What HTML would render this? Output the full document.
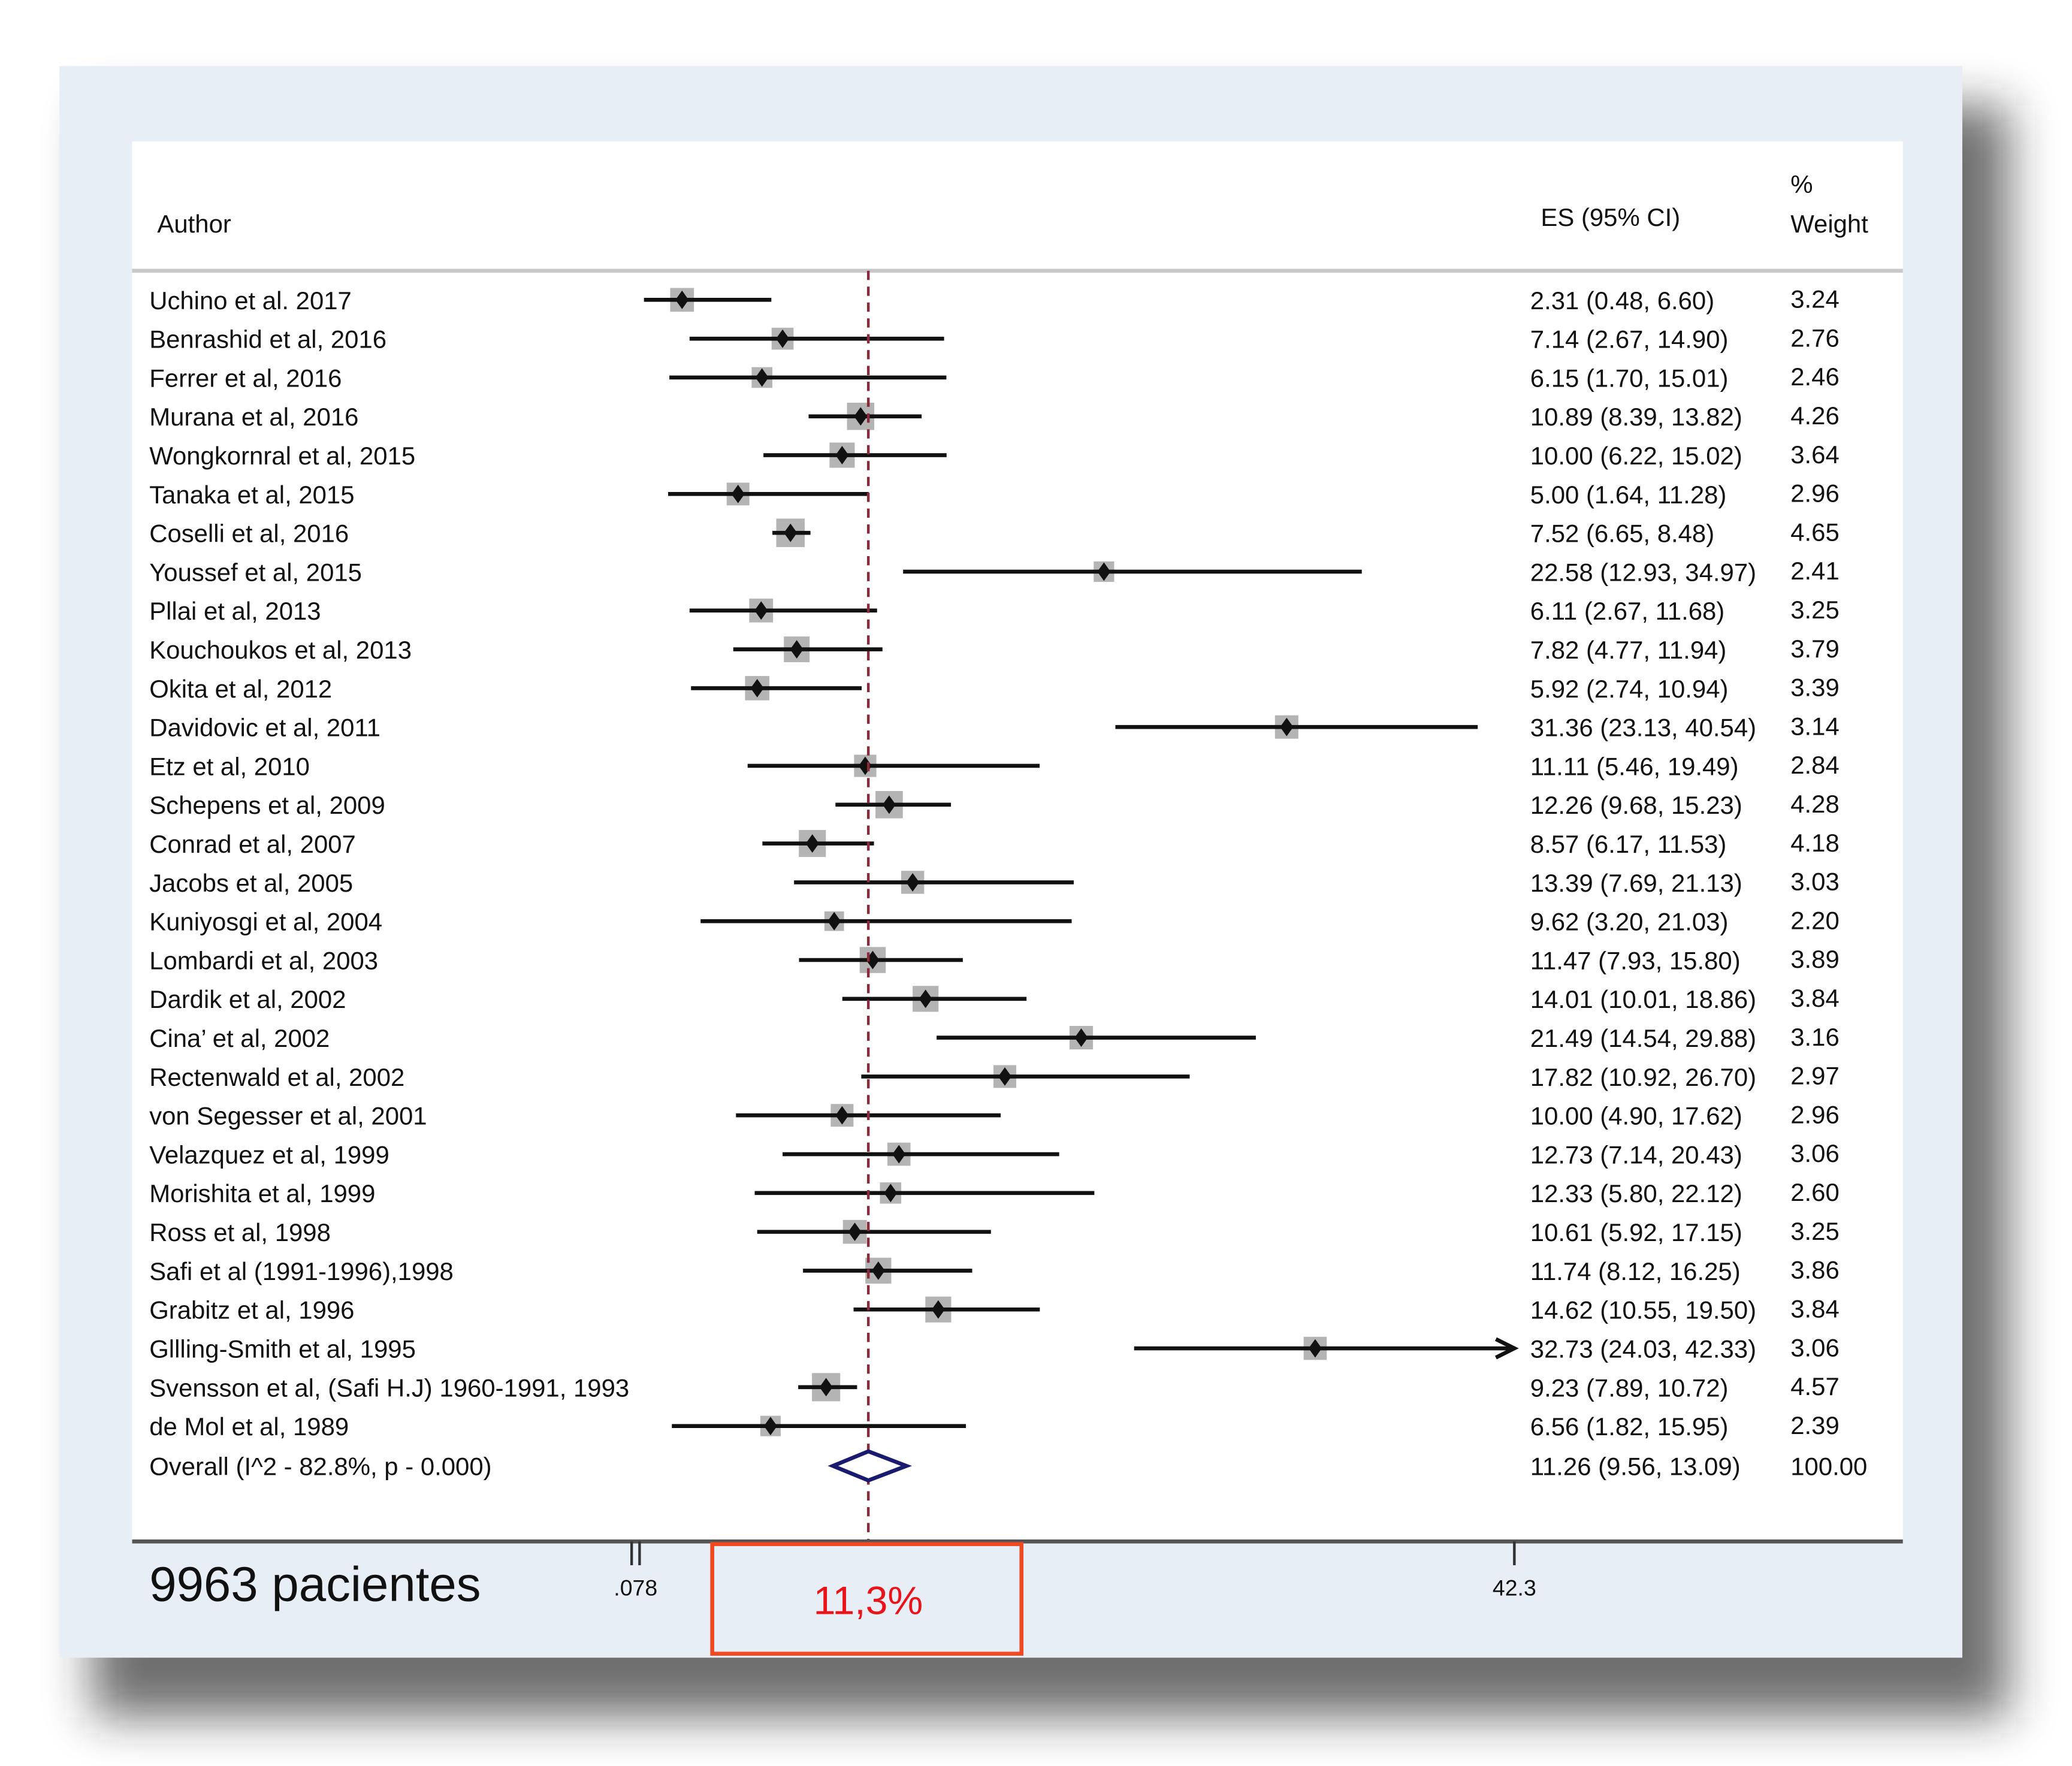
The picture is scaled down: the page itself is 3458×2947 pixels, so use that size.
<!DOCTYPE html>
<html><head><meta charset="utf-8"><style>
html,body{margin:0;padding:0;background:#fff;width:3458px;height:2947px;overflow:hidden}
svg{display:block}
text{font-family:"Liberation Sans",sans-serif;fill:#111}
</style></head><body>
<svg id="chart" width="3458" height="2947" viewBox="0 0 1568 1337" preserveAspectRatio="none">
<defs><filter id="sh" x="-10%" y="-10%" width="130%" height="130%"><feGaussianBlur stdDeviation="18"/></filter></defs>
<rect x="70" y="80" width="1450" height="1220" fill="#222" opacity="0.65" filter="url(#sh)"/>
<rect x="45" y="50" width="1440" height="1205" fill="#e8eef5"/>
<rect x="100" y="107" width="1340" height="1060" fill="#fff"/>
<text x="119" y="176" font-size="19">Author</text>
<text x="1166" y="171" font-size="19">ES (95% CI)</text>
<text x="1355" y="146" font-size="19">%</text>
<text x="1355" y="176" font-size="19">Weight</text>
<line x1="100" y1="205" x2="1440" y2="205" stroke="#c8c8c8" stroke-width="3"/>
<g id="rows"></g>
<line x1="100" y1="1167" x2="1440" y2="1167" stroke="#555" stroke-width="3"/>
<g id="axis"></g>
<text x="113" y="1212" font-size="37">9963 pacientes</text>
<rect x="539" y="1169" width="234" height="83" fill="none" stroke="#f04a23" stroke-width="3"/>
<text x="657" y="1222" font-size="30" text-anchor="middle" style="fill:#e8141a">11,3%</text>
</svg>
<script>
const authors=["Uchino et al. 2017","Benrashid et al, 2016","Ferrer et al, 2016","Murana et al, 2016","Wongkornral et al, 2015","Tanaka et al, 2015","Coselli et al, 2016","Youssef et al, 2015","Pllai et al, 2013","Kouchoukos et al, 2013","Okita et al, 2012","Davidovic et al, 2011","Etz et al, 2010","Schepens et al, 2009","Conrad et al, 2007","Jacobs et al, 2005","Kuniyosgi et al, 2004","Lombardi et al, 2003","Dardik et al, 2002","Cina’ et al, 2002","Rectenwald et al, 2002","von Segesser et al, 2001","Velazquez et al, 1999","Morishita et al, 1999","Ross et al, 1998","Safi et al (1991-1996),1998","Grabitz et al, 1996","Gllling-Smith et al, 1995","Svensson et al, (Safi H.J) 1960-1991, 1993","de Mol et al, 1989"];
const es=[2.31,7.14,6.15,10.89,10.00,5.00,7.52,22.58,6.11,7.82,5.92,31.36,11.11,12.26,8.57,13.39,9.62,11.47,14.01,21.49,17.82,10.00,12.73,12.33,10.61,11.74,14.62,32.73,9.23,6.56];
const lo=[0.48,2.67,1.70,8.39,6.22,1.64,6.65,12.93,2.67,4.77,2.74,23.13,5.46,9.68,6.17,7.69,3.20,7.93,10.01,14.54,10.92,4.90,7.14,5.80,5.92,8.12,10.55,24.03,7.89,1.82];
const hi=[6.60,14.90,15.01,13.82,15.02,11.28,8.48,34.97,11.68,11.94,10.94,40.54,19.49,15.23,11.53,21.13,21.03,15.80,18.86,29.88,26.70,17.62,20.43,22.12,17.15,16.25,19.50,42.33,10.72,15.95];
const weights=[3.24,2.76,2.46,4.26,3.64,2.96,4.65,2.41,3.25,3.79,3.39,3.14,2.84,4.28,4.18,3.03,2.20,3.89,3.84,3.16,2.97,2.96,3.06,2.60,3.25,3.86,3.84,3.06,4.57,2.39];
const overall={es:11.26,lo:9.56,hi:13.09,label:"Overall (I^2 - 82.8%, p - 0.000)",w:"100.00"};
const ticks=[0.078,42.3];
const tickLabels=[".078","42.3"];

const NS="http://www.w3.org/2000/svg";
const xmin=0.078,xmax=42.3,px0=481,px1=1146;
function X(v){return px0+(Math.min(v,xmax)-xmin)/(xmax-xmin)*(px1-px0);}
function Y(i){return 227+i*29.4;}
function mk(tag,attrs,parent){const e=document.createElementNS(NS,tag);for(const k in attrs)e.setAttribute(k,attrs[k]);parent.appendChild(e);return e;}
const rows=document.getElementById('rows');
const f2=v=>v.toFixed(2);
authors.forEach((a,i)=>{
  const y=Y(i);
  const g=mk('g',{},rows);
  
  
  const t=mk('text',{x:113,y:y+7,'font-size':19},g);t.textContent=a;
  
  
  const s=Math.sqrt(weights[i])*10;
  const sq=mk('rect',{x:X(es[i])-s/2,y:y-s/2,width:s,height:s,fill:'#b4b4b4'},g);
  
  
  const ln=mk('line',{x1:X(lo[i]),y1:y,x2:X(hi[i]),y2:y,stroke:'#111','stroke-width':3},g);
  
  
  if(hi[i]>xmax){
    const ar=mk('path',{d:`M${X(xmax)-14} ${y-7} L${X(xmax)} ${y} L${X(xmax)-14} ${y+7}`,fill:'none',stroke:'#111','stroke-width':3},g);
    
    
  }
  const cx=X(es[i]);
  const pt=mk('path',{d:`M${cx} ${y-7} L${cx+5} ${y} L${cx} ${y+7} L${cx-5} ${y} Z`,fill:'#111'},g);
  
  
  const e=mk('text',{x:1158,y:y+7,'font-size':19},g);e.textContent=`${f2(es[i])} (${f2(lo[i])}, ${f2(hi[i])})`;
  
  
  const w=mk('text',{x:1355,y:y+6,'font-size':19},g);w.textContent=f2(weights[i]);
  
  
});
const oy=Y(authors.length)+0.8;
const ref=mk('line',{x1:X(overall.es),y1:205,x2:X(overall.es),y2:1167,stroke:'#8b2a3a','stroke-width':2,'stroke-dasharray':'7 5'},rows);


const ot=mk('text',{x:113,y:oy+7,'font-size':19},rows);ot.textContent=overall.label;


const dm=mk('path',{d:`M${X(overall.lo)} ${oy} L${X(overall.es)} ${oy-11} L${X(overall.hi)} ${oy} L${X(overall.es)} ${oy+11} Z`,fill:'#fff',stroke:'#1a1a6e','stroke-width':3},rows);


const oe=mk('text',{x:1158,y:oy+7,'font-size':19},rows);oe.textContent=`${f2(overall.es)} (${f2(overall.lo)}, ${f2(overall.hi)})`;


const ow=mk('text',{x:1355,y:oy+7,'font-size':19},rows);ow.textContent=overall.w;


const axis=document.getElementById('axis');
ticks.forEach((v,i)=>{
  const x=X(v);
  const offs=i===0?[-3,3]:[0];
  offs.forEach(o=>{
    const tk=mk('line',{x1:x+o,y1:1167,x2:x+o,y2:1185,stroke:'#333','stroke-width':2},axis);
    
    
  });
  const tl=mk('text',{x:x,y:1208,'font-size':17,'text-anchor':'middle'},axis);tl.textContent=tickLabels[i];
  
  
});
</script>
</body></html>
